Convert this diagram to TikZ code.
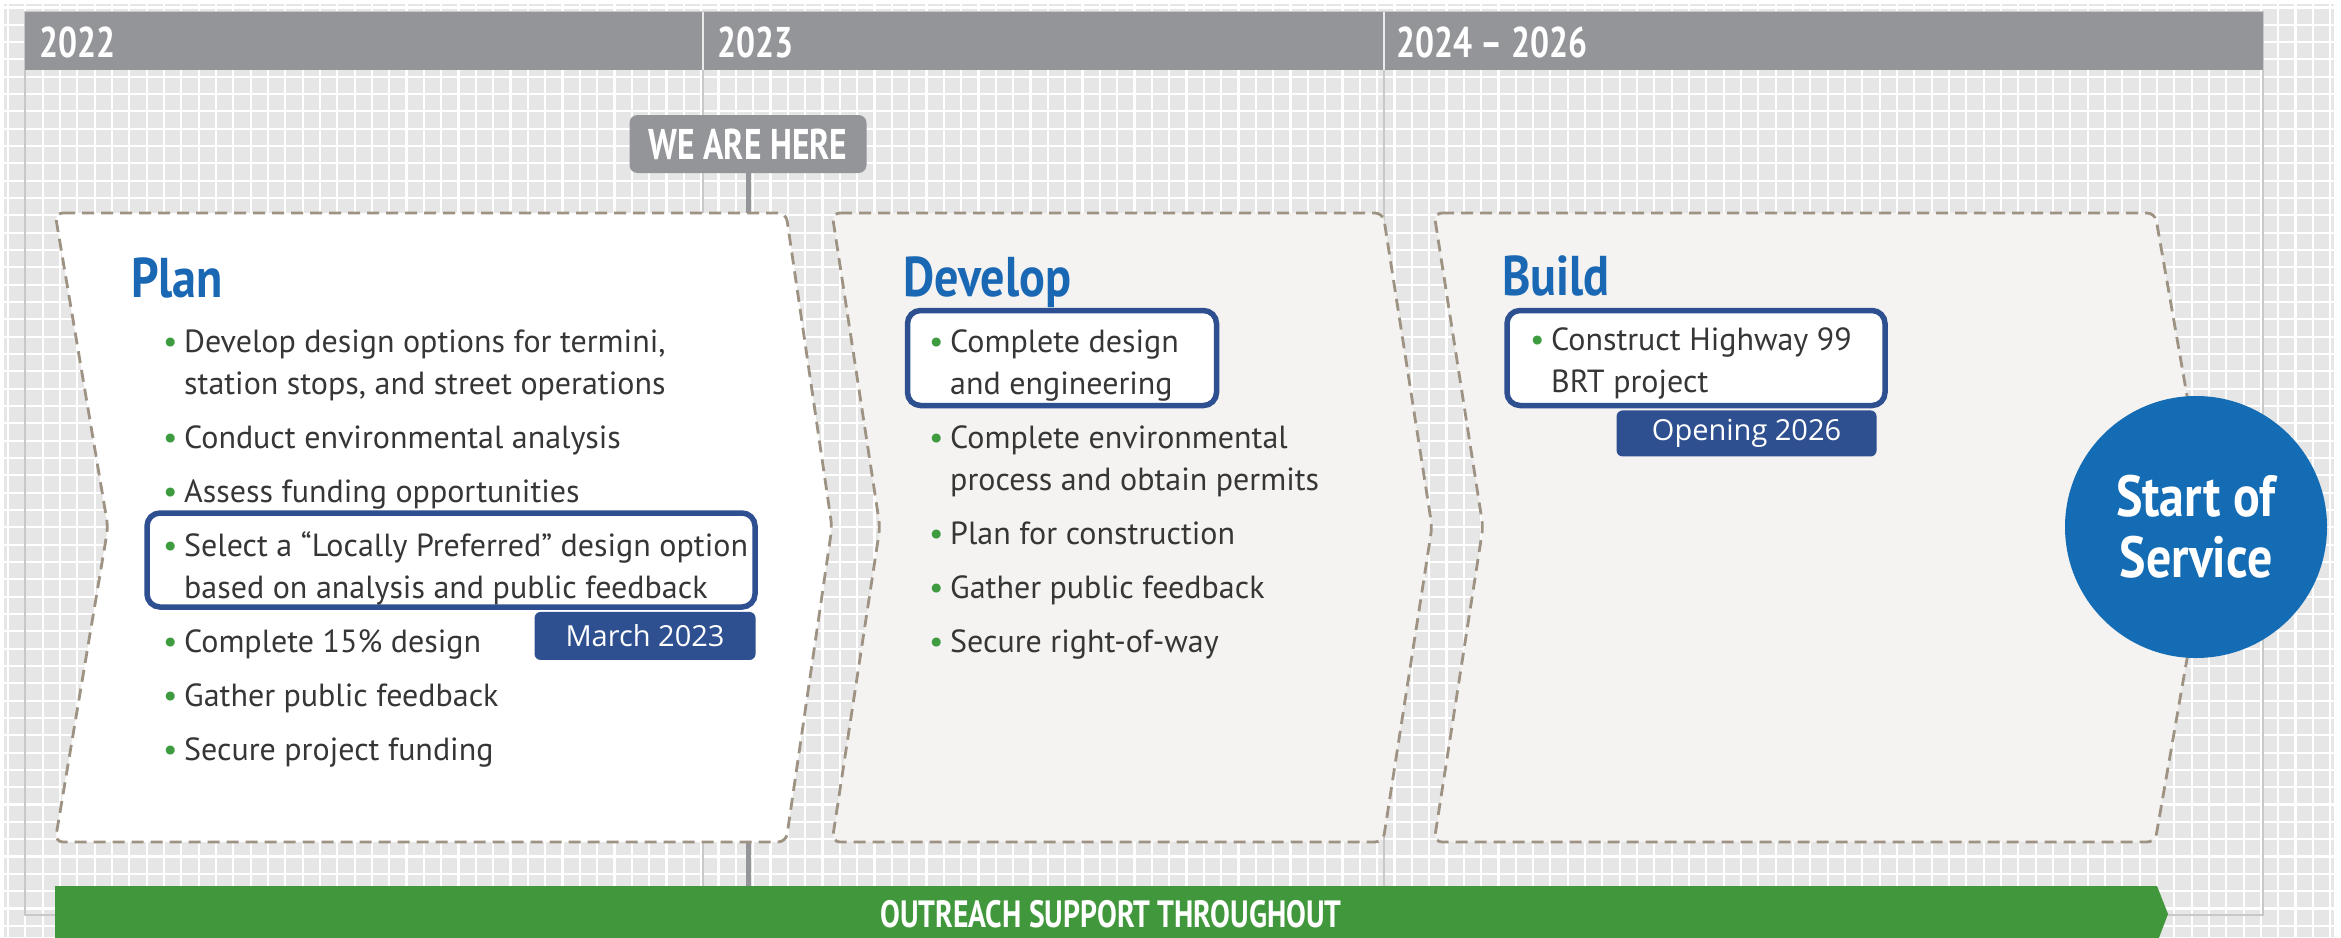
\documentclass[tikz,border=0pt]{standalone}
\usepackage{fontspec}
\setmainfont{PT Sans}
\newfontfamily\condfont[FakeStretch=0.78]{PT Sans}
\newfontfamily\headfont[FakeStretch=0.86]{PT Sans}
\newfontfamily\tagfont{Open Sans}
\usetikzlibrary{positioning}

\definecolor{gridbg}{HTML}{E6E6E6}
\definecolor{bargray}{HTML}{939598}
\definecolor{framegray}{HTML}{C8C8C8}
\definecolor{dashtan}{HTML}{9E9383}
\definecolor{panelgray}{HTML}{F4F3F1}
\definecolor{titleblue}{HTML}{1A68B3}
\definecolor{hlblue}{HTML}{2E5090}
\definecolor{dotgreen}{HTML}{3E9B3F}
\definecolor{bangreen}{HTML}{41973B}
\definecolor{circblue}{HTML}{136CB4}
\definecolor{txtgray}{HTML}{363636}

% green bullet with fixed indent
\newcommand{\gb}{\makebox[21pt][l]{\textcolor{dotgreen}{\textbullet}}}

\tikzset{
  yearlbl/.style={anchor=base west, text=white, inner sep=0pt, font=\condfont\bfseries\fontsize{43}{43}\selectfont},
  phase/.style={anchor=base west, text=titleblue, inner sep=0pt, font=\headfont\bfseries\fontsize{56}{56}\selectfont},
  itemtxt/.style={anchor=base west, text=txtgray, inner sep=0pt, font=\fontsize{32}{42}\selectfont},
  chev/.style={draw=dashtan, line width=2.8pt, dash pattern=on 12pt off 7pt, rounded corners=8pt},
  hlbox/.style={draw=hlblue, line width=5.5pt, rounded corners=13pt, fill=white, inner sep=0pt},
  datetag/.style={fill=hlblue, text=white, rounded corners=6pt, inner sep=0pt, font=\tagfont\fontsize{29}{29}\selectfont},
}

\begin{document}
\begin{tikzpicture}[x=1pt,y=-1pt]
\useasboundingbox (0,0) rectangle (2341,937);

% grid paper
\fill[gridbg] (4,4) rectangle (2334,937);
\foreach \gx in {0,...,134}
  \draw[white, line width=2.2pt] ({8+17.33*\gx},4) -- ++(0,933);
\foreach \gy in {0,...,53}
  \draw[white, line width=2.2pt] (4,{7.4+17.33*\gy}) -- (2334,{7.4+17.33*\gy});

% frame, year bar and dividers
\draw[framegray, line width=1.5pt] (25,12) rectangle (2263,915);
\fill[bargray] (25,12) rectangle (2263,70);
\foreach \dx in {703,1384} {
  \draw[white!80!bargray, line width=1.5pt] (\dx,12) -- (\dx,70);
  \draw[framegray, line width=1.5pt] (\dx,70) -- (\dx,915);
}
\node[yearlbl] (y22) at (39,57) {2022};
\node[yearlbl] (y23) at (717,57) {2023};
\node[yearlbl] (y24) at (1396,57) {2024 – 2026};

% we are here
\coordinate (bantop) at (0,886);
\node[fill=bargray, rounded corners=8pt, minimum width=237pt, minimum height=58pt, inner sep=0pt,
      text=white, font=\condfont\bfseries\fontsize{43}{43}\selectfont] (here) at (748,144) {WE ARE HERE};
\draw[bargray, line width=5pt] (here.south) -- (here.south |- bantop);

% phase chevrons
\draw[chev, fill=white] (55,213) -- (786,213) -- (832,527) -- (786,842) -- (55,842) -- (108,527) -- cycle;
\draw[chev, fill=panelgray] (832,213) -- (1383,213) -- (1432,527) -- (1383,842) -- (832,842) -- (880,527) -- cycle;
\draw[chev, fill=panelgray] (1434,213) -- (2155,213) -- (2210,527) -- (2155,842) -- (1434,842) -- (1483,527) -- cycle;

% highlighted items
\node[hlbox, minimum width=608pt, minimum height=94pt] (selbox) at (451,560) {};
\node[hlbox, minimum width=309pt, minimum height=95pt] (engbox) at (1062,358) {};
\node[hlbox, minimum width=378pt, minimum height=95pt] (brtbox) at (1696,358) {};
\node[datetag, minimum width=221pt, minimum height=48pt, anchor=north east] (march)
  at ([xshift=-2pt, yshift=-2pt]selbox.south east) {March 2023};
\node[datetag, minimum width=260pt, minimum height=46pt, anchor=north east] (opening)
  at ([xshift=-11pt, yshift=-2pt]brtbox.south east) {Opening 2026};

% Plan
\node[phase] (tplan) at (131,297) {Plan};
\node[itemtxt] (p1) at (163,352) {\gb\parbox[t]{560pt}{Develop design options for termini,\\station stops, and street operations}};
\node[itemtxt] (p2) at (163,448) {\gb Conduct environmental analysis};
\node[itemtxt] (p3) at (163,502) {\gb Assess funding opportunities};
\node[itemtxt] (p4) at (163,556) {\gb\parbox[t]{580pt}{Select a “Locally Preferred” design option\\based on analysis and public feedback}};
\node[itemtxt] (p5) at (163,652) {\gb Complete 15\% design};
\node[itemtxt] (p6) at (163,706) {\gb Gather public feedback};
\node[itemtxt] (p7) at (163,760) {\gb Secure project funding};

% Develop
\node[phase] (tdev) at (903,296) {Develop};
\node[itemtxt] (d1) at (929,352) {\gb\parbox[t]{400pt}{Complete design\\and engineering}};
\node[itemtxt] (d2) at (929,448) {\gb\parbox[t]{400pt}{Complete environmental\\process and obtain permits}};
\node[itemtxt] (d3) at (929,544) {\gb Plan for construction};
\node[itemtxt] (d4) at (929,598) {\gb Gather public feedback};
\node[itemtxt] (d5) at (929,652) {\gb Secure right-of-way};

% Build
\node[phase] (tbuild) at (1502,295) {Build};
\node[itemtxt] (b1) at (1530,350) {\gb\parbox[t]{400pt}{Construct Highway 99\\BRT project}};

% start of service
\node[circle, fill=circblue, minimum size=262pt, inner sep=0pt, text=white, align=center,
      font=\headfont\bfseries\fontsize{58}{61}\selectfont] (service) at (2196,527) {Start of\\Service};

% outreach banner
\fill[bangreen] (55,886) -- (2157,886) -- (2168,914) -- (2157,943) -- (55,943) -- cycle;
\node[text=white, inner sep=0pt, font=\condfont\bfseries\fontsize{38}{38}\selectfont] (outreach) at (1111,914) {OUTREACH SUPPORT THROUGHOUT};
\end{tikzpicture}
\end{document}
